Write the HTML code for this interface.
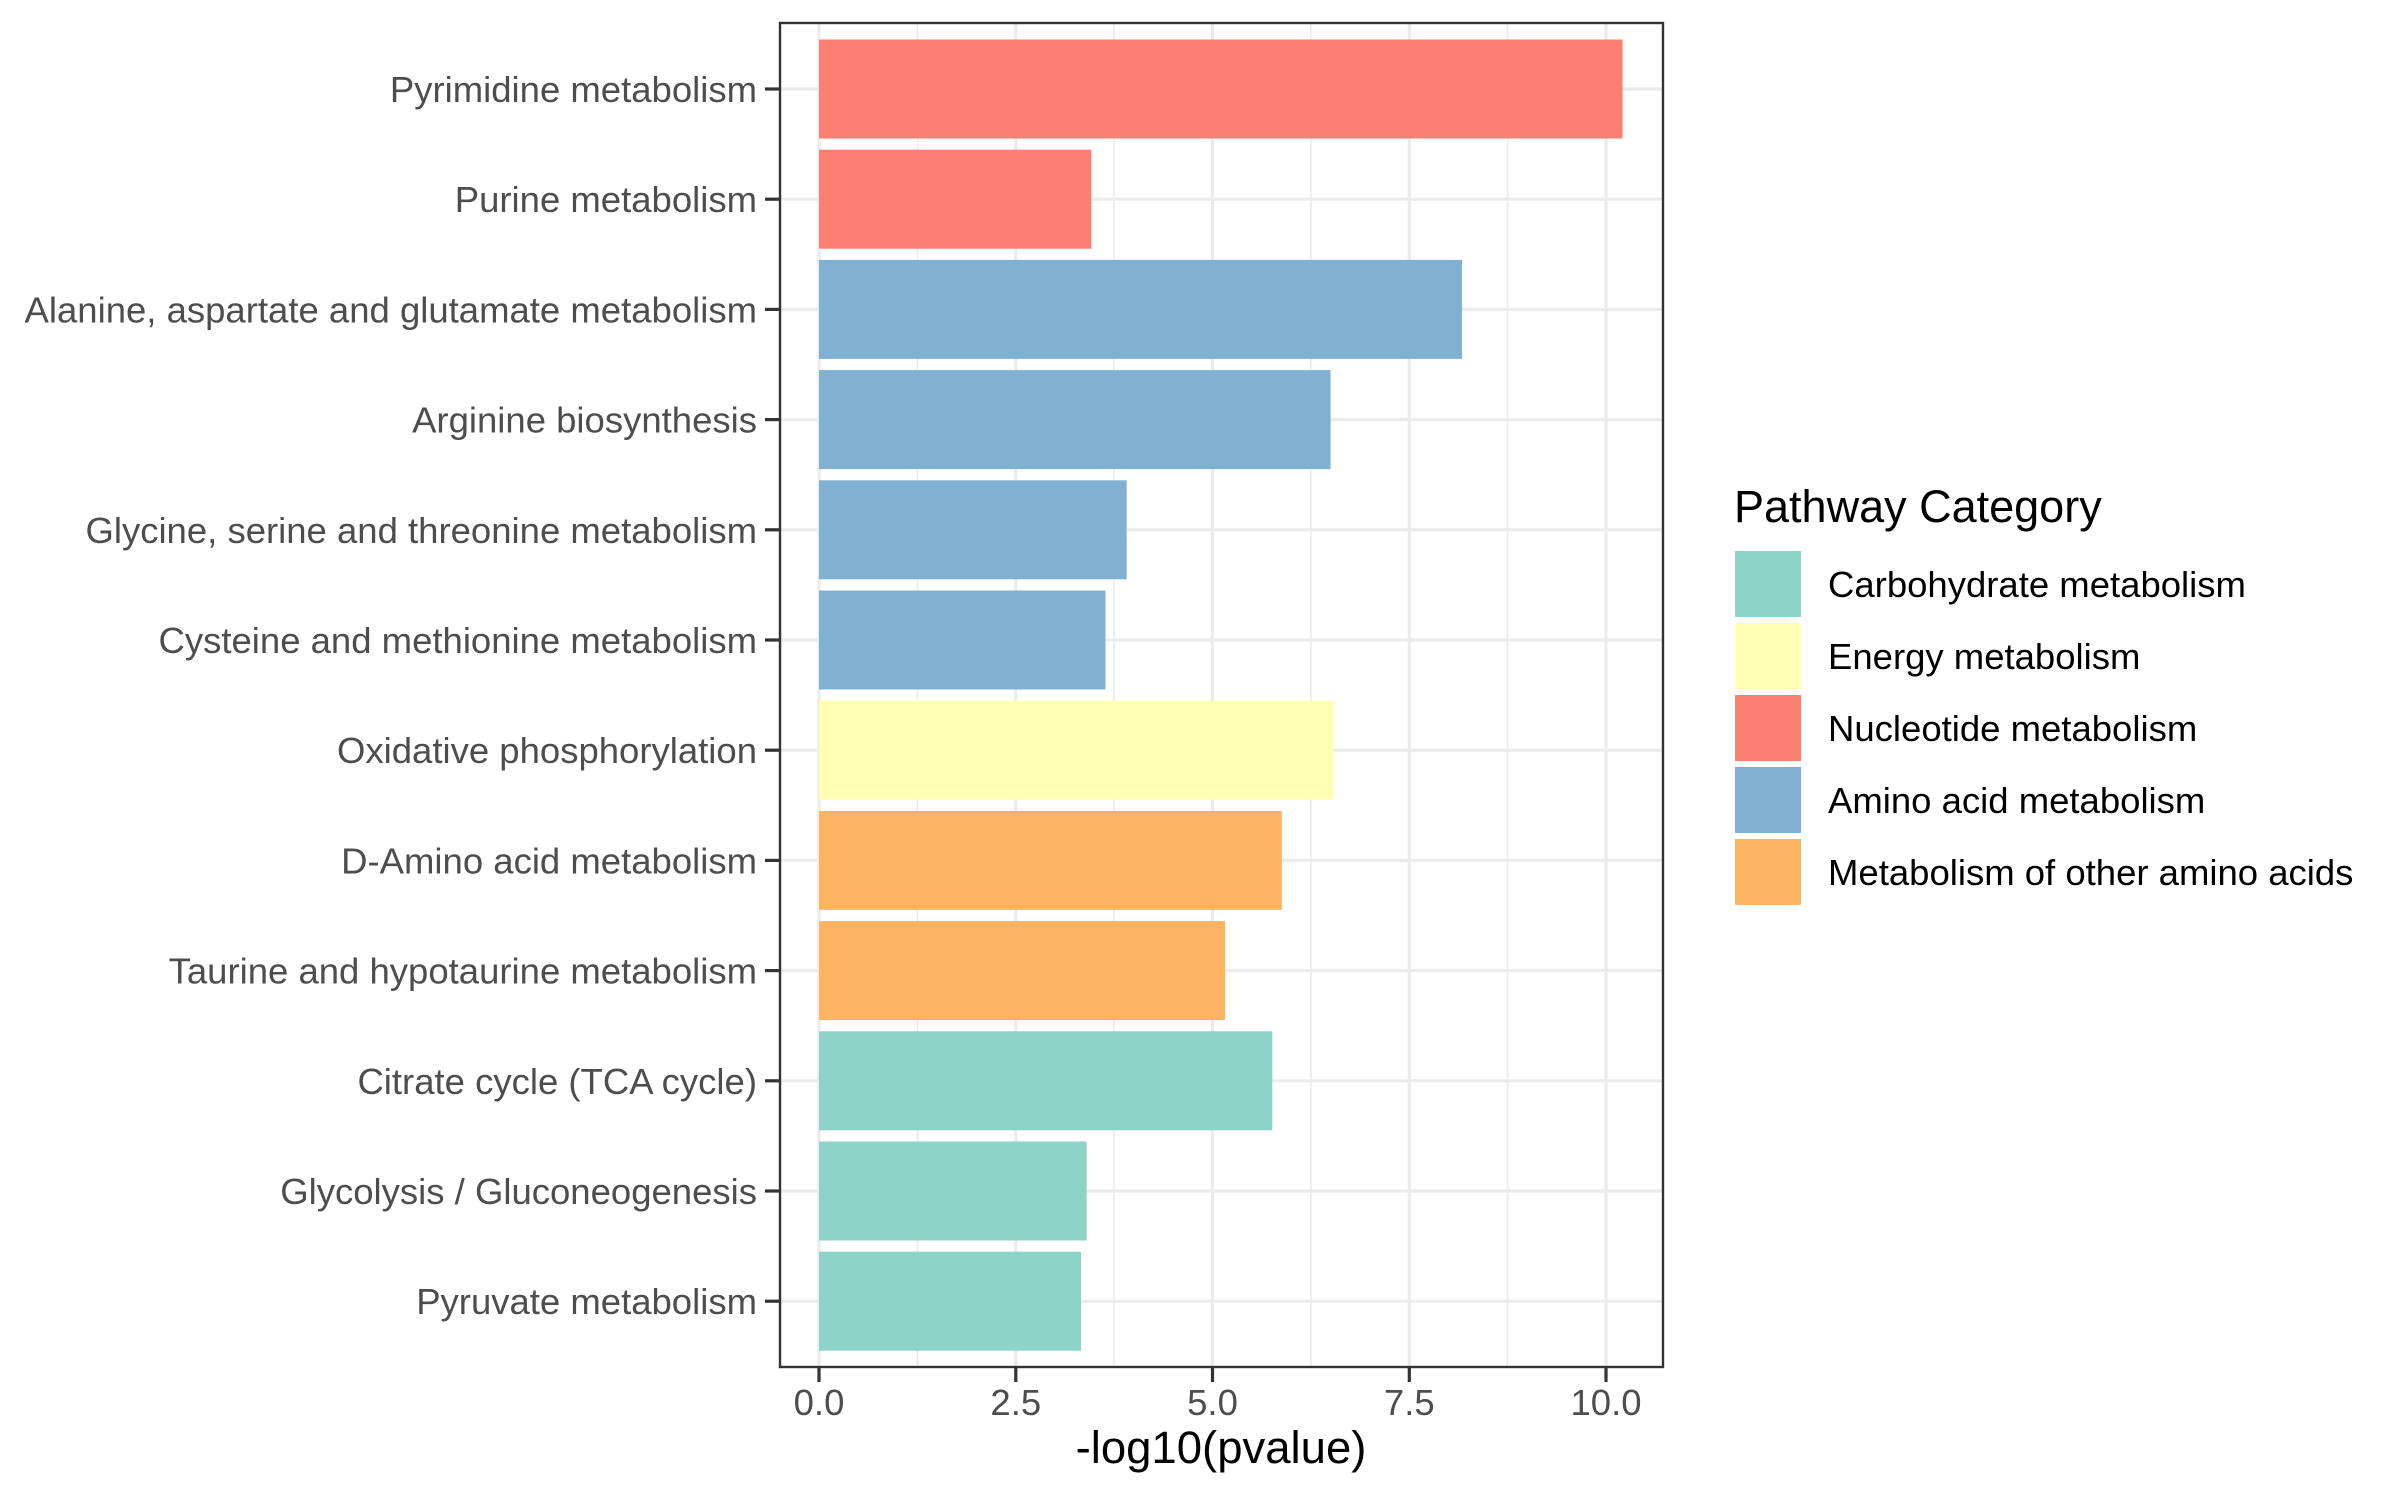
<!DOCTYPE html>
<html><head><meta charset="utf-8"><style>html,body{margin:0;padding:0;background:#fff}svg{display:block}</style></head>
<body>
<svg width="2400" height="1500" viewBox="0 0 2400 1500" xmlns="http://www.w3.org/2000/svg" font-family="Liberation Sans, Arial, sans-serif">
<rect width="2400" height="1500" fill="#fff"/>
<g stroke="#ebebeb">
<g stroke-width="1.6">
<line x1="917.4" y1="23" x2="917.4" y2="1367"/><line x1="1114.1" y1="23" x2="1114.1" y2="1367"/><line x1="1310.9" y1="23" x2="1310.9" y2="1367"/><line x1="1507.6" y1="23" x2="1507.6" y2="1367"/>
</g>
<g stroke-width="3.2">
<line x1="819" y1="23" x2="819" y2="1367"/><line x1="1015.8" y1="23" x2="1015.8" y2="1367"/><line x1="1212.5" y1="23" x2="1212.5" y2="1367"/><line x1="1409.3" y1="23" x2="1409.3" y2="1367"/><line x1="1606" y1="23" x2="1606" y2="1367"/>
<line x1="780" y1="89" x2="1663" y2="89"/><line x1="780" y1="199.2" x2="1663" y2="199.2"/><line x1="780" y1="309.4" x2="1663" y2="309.4"/><line x1="780" y1="419.6" x2="1663" y2="419.6"/><line x1="780" y1="529.8" x2="1663" y2="529.8"/><line x1="780" y1="640" x2="1663" y2="640"/><line x1="780" y1="750.2" x2="1663" y2="750.2"/><line x1="780" y1="860.4" x2="1663" y2="860.4"/><line x1="780" y1="970.6" x2="1663" y2="970.6"/><line x1="780" y1="1080.8" x2="1663" y2="1080.8"/><line x1="780" y1="1191" x2="1663" y2="1191"/><line x1="780" y1="1301.2" x2="1663" y2="1301.2"/>
</g></g>
<g>
<rect x="819" y="39.5" width="803.5" height="99" fill="#FB8072"/>
<rect x="819" y="149.7" width="272.3" height="99" fill="#FB8072"/>
<rect x="819" y="259.9" width="643" height="99" fill="#80B1D3"/>
<rect x="819" y="370.1" width="511.6" height="99" fill="#80B1D3"/>
<rect x="819" y="480.3" width="307.7" height="99" fill="#80B1D3"/>
<rect x="819" y="590.5" width="286.5" height="99" fill="#80B1D3"/>
<rect x="819" y="700.7" width="514.7" height="99" fill="#FFFFB3"/>
<rect x="819" y="810.9" width="462.8" height="99" fill="#FDB462"/>
<rect x="819" y="921.1" width="406.1" height="99" fill="#FDB462"/>
<rect x="819" y="1031.3" width="453.3" height="99" fill="#8DD3C7"/>
<rect x="819" y="1141.5" width="267.6" height="99" fill="#8DD3C7"/>
<rect x="819" y="1251.7" width="262.1" height="99" fill="#8DD3C7"/>
</g>
<rect x="780" y="23" width="883" height="1344" fill="none" stroke="#333" stroke-width="2.4"/>
<g stroke="#333" stroke-width="3.2">
<line x1="765" y1="89" x2="780" y2="89"/><line x1="765" y1="199.2" x2="780" y2="199.2"/><line x1="765" y1="309.4" x2="780" y2="309.4"/><line x1="765" y1="419.6" x2="780" y2="419.6"/><line x1="765" y1="529.8" x2="780" y2="529.8"/><line x1="765" y1="640" x2="780" y2="640"/><line x1="765" y1="750.2" x2="780" y2="750.2"/><line x1="765" y1="860.4" x2="780" y2="860.4"/><line x1="765" y1="970.6" x2="780" y2="970.6"/><line x1="765" y1="1080.8" x2="780" y2="1080.8"/><line x1="765" y1="1191" x2="780" y2="1191"/><line x1="765" y1="1301.2" x2="780" y2="1301.2"/>
<line x1="819" y1="1367" x2="819" y2="1382"/><line x1="1015.8" y1="1367" x2="1015.8" y2="1382"/><line x1="1212.5" y1="1367" x2="1212.5" y2="1382"/><line x1="1409.3" y1="1367" x2="1409.3" y2="1382"/><line x1="1606" y1="1367" x2="1606" y2="1382"/>
</g>
<g font-size="36.5" fill="#4d4d4d" text-anchor="end">
<text x="757" y="102">Pyrimidine metabolism</text>
<text x="757" y="212.2">Purine metabolism</text>
<text x="757" y="322.4">Alanine, aspartate and glutamate metabolism</text>
<text x="757" y="432.6">Arginine biosynthesis</text>
<text x="757" y="542.8">Glycine, serine and threonine metabolism</text>
<text x="757" y="653">Cysteine and methionine metabolism</text>
<text x="757" y="763.2">Oxidative phosphorylation</text>
<text x="757" y="873.4">D-Amino acid metabolism</text>
<text x="757" y="983.6">Taurine and hypotaurine metabolism</text>
<text x="757" y="1093.8">Citrate cycle (TCA cycle)</text>
<text x="757" y="1204">Glycolysis / Gluconeogenesis</text>
<text x="757" y="1314.2">Pyruvate metabolism</text>
</g>
<g font-size="36.5" fill="#4d4d4d" text-anchor="middle">
<text x="819" y="1415">0.0</text><text x="1015.8" y="1415">2.5</text><text x="1212.5" y="1415">5.0</text><text x="1409.3" y="1415">7.5</text><text x="1606" y="1415">10.0</text>
</g>
<text x="1221" y="1463" font-size="45.5" text-anchor="middle" fill="#000">-log10(pvalue)</text>
<text x="1734" y="522" font-size="45" fill="#000">Pathway Category</text>
<rect x="1735" y="551" width="66" height="66" fill="#8DD3C7"/>
<rect x="1735" y="623" width="66" height="66" fill="#FFFFB3"/>
<rect x="1735" y="695" width="66" height="66" fill="#FB8072"/>
<rect x="1735" y="767" width="66" height="66" fill="#80B1D3"/>
<rect x="1735" y="839" width="66" height="66" fill="#FDB462"/>
<g font-size="36.5" fill="#000">
<text x="1828" y="597">Carbohydrate metabolism</text>
<text x="1828" y="669">Energy metabolism</text>
<text x="1828" y="741">Nucleotide metabolism</text>
<text x="1828" y="813">Amino acid metabolism</text>
<text x="1828" y="885">Metabolism of other amino acids</text>
</g>
</svg>
</body></html>
